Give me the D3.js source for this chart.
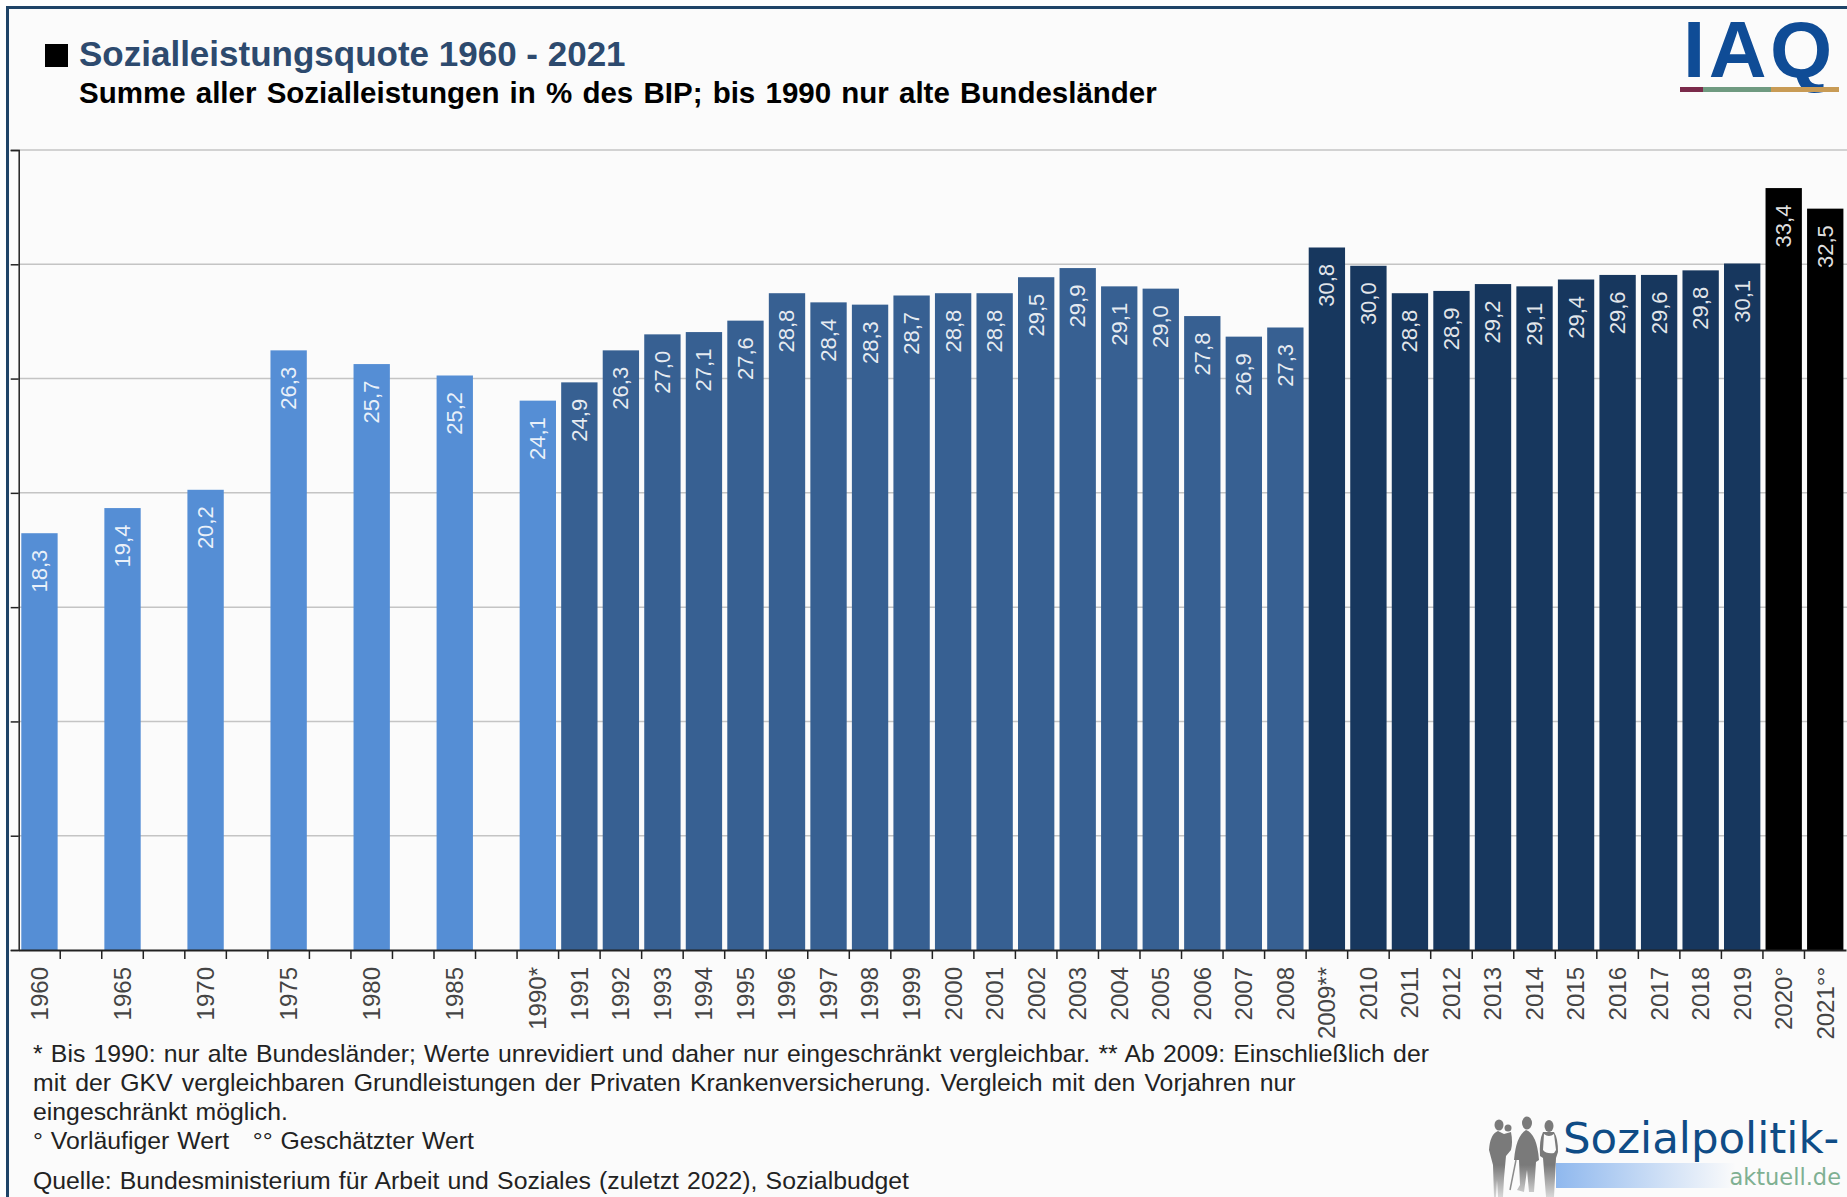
<!DOCTYPE html>
<html lang="de">
<head>
<meta charset="utf-8">
<title>Sozialleistungsquote 1960 - 2021</title>
<script src="https://cdn.jsdelivr.net/npm/d3@7"></script>
<style>
  html, body { margin: 0; padding: 0; background: #fff; }
  svg { display: block; }
  text { font-family: "Liberation Sans", Arial, sans-serif; }
  text.logo { font-family: "DejaVu Sans", sans-serif; }
</style>
</head>
<body>
<svg id="chart"></svg>
<script>
const width = 1847;
const height = 1197;

// Data. Empty strings are the unused years between the 5-year steps
const categories = ["1960", "", "1965", "", "1970", "", "1975", "", "1980", "", "1985", "", "1990*",
  "1991", "1992", "1993", "1994", "1995", "1996", "1997", "1998", "1999", "2000", "2001", "2002",
  "2003", "2004", "2005", "2006", "2007", "2008", "2009**", "2010", "2011", "2012", "2013", "2014",
  "2015", "2016", "2017", "2018", "2019", "2020°", "2021°°"];
const values = [18.3, null, 19.4, null, 20.2, null, 26.3, null, 25.7, null, 25.2, null, 24.1,
  24.9, 26.3, 27.0, 27.1, 27.6, 28.8, 28.4, 28.3, 28.7, 28.8, 28.8, 29.5,
  29.9, 29.1, 29.0, 27.8, 26.9, 27.3, 30.8, 30.0, 28.8, 28.9, 29.2, 29.1,
  29.4, 29.6, 29.6, 29.8, 30.1, 33.4, 32.5];
const yTicks = [0, 5, 10, 15, 20, 25, 30, 35];

const titleText = "Sozialleistungsquote 1960 - 2021";
const subtitleText = "Summe aller Sozialleistungen in % des BIP; bis 1990 nur alte Bundesländer";
const footnotes = [
  "* Bis 1990: nur alte Bundesländer; Werte unrevidiert und daher nur eingeschränkt vergleichbar. ** Ab 2009: Einschließlich der",
  "mit der GKV vergleichbaren Grundleistungen der Privaten Krankenversicherung. Vergleich mit den Vorjahren nur",
  "eingeschränkt möglich.",
  "° Vorläufiger Wert   °° Geschätzter Wert",
  "Quelle: Bundesministerium für Arbeit und Soziales (zuletzt 2022), Sozialbudget"
];

const svg = d3.select("#chart")
  .attr("width", width)
  .attr("height", height);

// Page background and the navy frame (right and bottom edges are cut off in the original)
svg.append("rect").attr("x", 7).attr("y", 7).attr("width", width - 7).attr("height", height - 7).attr("fill", "#fbfbfb");
svg.append("path")
  .attr("d", `M7.5,${height} V7.5 H${width}`)
  .attr("fill", "none")
  .attr("stroke", "#1f4468")
  .attr("stroke-width", 3);

const plotLeft = 18.7;
const plotRight = 1846;
const plotTop = 150;
const plotBottom = 950;
const barInset = 1.5; // bars sit a touch under the gridlines in the original

const x = d3.scaleBand()
  .domain(d3.range(categories.length))
  .range([plotLeft, plotRight])
  .paddingInner(0.125)
  .paddingOuter(0.0625);

const y = d3.scaleLinear()
  .domain([0, 35])
  .range([plotBottom, plotTop]);

function barColor(i) {
  if (i <= 12) return "#558ed5";   // up to 1990
  if (i <= 30) return "#376092";   // 1991 - 2008
  if (i <= 41) return "#17375e";   // 2009 - 2019
  return "#000000";                // 2020, 2021
}

// Gridlines
svg.append("g")
  .selectAll("line")
  .data(yTicks.slice(1))
  .enter().append("line")
  .attr("x1", plotLeft)
  .attr("x2", width)
  .attr("y1", d => y(d))
  .attr("y2", d => y(d))
  .attr("stroke", "#c4c4c4")
  .attr("stroke-width", 1.5);

// Y axis, no labels in the original
const yAxis = d3.axisLeft(y)
  .tickValues(yTicks)
  .tickSize(8)
  .tickFormat("");
svg.append("g")
  .attr("transform", `translate(${plotLeft},0)`)
  .call(yAxis)
  .call(g => g.selectAll("line,path").attr("stroke", "#222").attr("stroke-width", 1.5));

// Bars
const bars = categories.map((c, i) => ({ i: i, label: c, value: values[i] })).filter(d => d.value !== null);

svg.append("g")
  .selectAll("rect")
  .data(bars)
  .enter().append("rect")
  .attr("x", d => x(d.i))
  .attr("y", d => y(d.value) + barInset)
  .attr("width", x.bandwidth())
  .attr("height", d => y(0) - y(d.value) - barInset)
  .attr("fill", d => barColor(d.i));

// Value labels inside the bars, decimal comma
const germanNumber = d => d.toFixed(1).replace(".", ",");
svg.append("g")
  .selectAll("text")
  .data(bars)
  .enter().append("text")
  .attr("transform", d => `translate(${x(d.i) + x.bandwidth() / 2 + 7.5},${y(d.value) + 18}) rotate(-90)`)
  .attr("text-anchor", "end")
  .attr("font-size", 22)
  .attr("fill", "#ffffff")
  .attr("fill-opacity", 0.88)
  .text(d => germanNumber(d.value));

// X axis: category labels from the band scale, ticks on the band edges
const xAxis = d3.axisBottom(x)
  .tickSize(0)
  .tickFormat(i => categories[i]);
const xAxisG = svg.append("g")
  .attr("transform", `translate(0,${plotBottom})`)
  .call(xAxis);
xAxisG.select(".domain").attr("stroke", "#222").attr("stroke-width", 1.8);
xAxisG.selectAll("text")
  .attr("transform", "rotate(-90)")
  .attr("text-anchor", "end")
  .attr("x", -17)
  .attr("y", 0)
  .attr("dy", "0.35em")
  .attr("font-size", 24)
  .attr("fill", "#444");

const edgeOffset = (x.step() - x.bandwidth()) / 2;
svg.append("g")
  .selectAll("line")
  .data(d3.range(1, categories.length))
  .enter().append("line")
  .attr("x1", i => x(i) - edgeOffset)
  .attr("x2", i => x(i) - edgeOffset)
  .attr("y1", plotBottom)
  .attr("y2", plotBottom + 9)
  .attr("stroke", "#222")
  .attr("stroke-width", 1.5);

// Title block
svg.append("rect").attr("x", 45).attr("y", 44).attr("width", 23).attr("height", 23).attr("fill", "#000");
svg.append("text")
  .attr("x", 79).attr("y", 66)
  .attr("font-size", 35).attr("font-weight", "bold")
  .attr("fill", "#2d4a6e")
  .text(titleText);
svg.append("text")
  .attr("x", 79).attr("y", 103)
  .attr("font-size", 29.5).attr("font-weight", "bold")
  .attr("word-spacing", 2)
  .attr("fill", "#000")
  .text(subtitleText);

// Footnotes
const footY = [1062, 1091, 1120, 1149, 1189];
const footSpacing = [1.3, 2.3, 1.3, 1, 1.3];
svg.append("g")
  .selectAll("text")
  .data(footnotes)
  .enter().append("text")
  .attr("x", 33)
  .attr("y", (d, i) => footY[i])
  .attr("font-size", 24.8)
  .attr("word-spacing", (d, i) => footSpacing[i])
  .attr("fill", "#222")
  .style("white-space", "pre")
  .text(d => d);

// IAQ logo
svg.append("text")
  .attr("x", 1683).attr("y", 77)
  .attr("font-size", 80).attr("font-weight", "bold")
  .attr("letter-spacing", 3.5)
  .attr("fill", "#0f4c96")
  .text("IAQ");
[[1680, 23, "#7a2a4a"], [1703, 68, "#6f9a80"], [1771, 68, "#c89b55"]].forEach(s => {
  svg.append("rect").attr("x", s[0]).attr("y", 87).attr("width", s[1]).attr("height", 5).attr("fill", s[2]);
});

// Sozialpolitik-aktuell logo
const defs = svg.append("defs");
const fade = defs.append("linearGradient").attr("id", "logoFade");
fade.append("stop").attr("offset", "0%").attr("stop-color", "#8fb8ee");
fade.append("stop").attr("offset", "100%").attr("stop-color", "#fbfbfb");
const peopleFade = defs.append("linearGradient")
  .attr("id", "peopleFade")
  .attr("gradientUnits", "userSpaceOnUse")
  .attr("x1", 0).attr("x2", 0).attr("y1", 1165).attr("y2", 1197);
peopleFade.append("stop").attr("offset", "0%").attr("stop-color", "#7a7a7a");
peopleFade.append("stop").attr("offset", "100%").attr("stop-color", "#d8d8d8");

svg.append("rect").attr("x", 1556).attr("y", 1163).attr("width", 180).attr("height", 25).attr("fill", "url(#logoFade)");

const people = svg.append("g").attr("fill", "url(#peopleFade)");
people.append("ellipse").attr("cx", 1499).attr("cy", 1125).attr("rx", 4.5).attr("ry", 5.5);
people.append("circle").attr("cx", 1508).attr("cy", 1128).attr("r", 3.5);
people.append("path").attr("d", "M1489,1150 Q1490,1134 1498,1131 L1504,1134 L1511,1132 Q1513,1142 1511,1150 L1506,1156 L1504,1178 L1503,1197 L1498,1197 L1497,1180 L1496,1197 L1494,1197 L1493,1165 Z");
people.append("ellipse").attr("cx", 1527).attr("cy", 1123).attr("rx", 5).attr("ry", 6.5);
people.append("path").attr("d", "M1514,1160 Q1516,1136 1526,1130 Q1537,1134 1539,1160 L1536,1162 L1534,1192 L1529,1192 L1527,1170 L1524,1192 L1517,1190 L1520,1185 L1519,1160 Z");
people.append("path").attr("d", "M1516,1160 L1510,1190").attr("fill", "none").attr("stroke", "#8c8c8c").attr("stroke-width", 1.5);
people.append("ellipse").attr("cx", 1549).attr("cy", 1126).attr("rx", 4.5).attr("ry", 6);
people.append("path").attr("d", "M1543,1132 Q1539,1140 1540,1156 L1543,1158 L1546,1197 L1554,1197 L1556,1158 L1558,1152 Q1558,1138 1554,1132 Z");
svg.append("path").attr("d", "M1544,1134 L1543,1150 Q1546,1154 1554,1153 L1556,1150 L1554,1134 Q1549,1138 1544,1134 Z").attr("fill", "#fbfbfb");

svg.append("text")
  .attr("class", "logo")
  .attr("x", 1563).attr("y", 1153)
  .attr("font-size", 43.5)
  .attr("fill", "#0f4c86")
  .text("Sozialpolitik-");
svg.append("text")
  .attr("class", "logo")
  .attr("x", 1841).attr("y", 1185)
  .attr("text-anchor", "end")
  .attr("font-size", 22.5)
  .attr("fill", "#7fb092")
  .text("aktuell.de");
</script>
</body>
</html>
